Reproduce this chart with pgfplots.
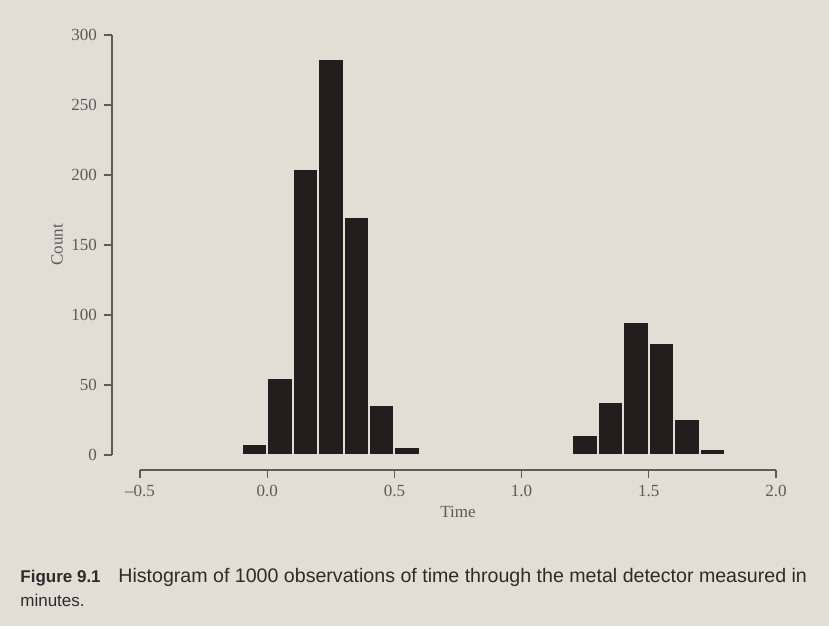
\documentclass[border=0pt]{standalone}
\usepackage{pgfplots}
\pgfplotsset{compat=1.18}
\usepackage{fontspec}
\setmainfont{Liberation Serif}
\newfontfamily\capfont{Liberation Sans}
\definecolor{pagebg}{RGB}{226,222,214}
\definecolor{barcol}{RGB}{36,29,29}
\definecolor{inkgray}{RGB}{95,90,86}
\definecolor{capink}{RGB}{45,42,42}
\begin{document}
\begin{tikzpicture}[x=1pt,y=1pt]
\fill[pagebg] (0,0) rectangle (414.5,313);
\begin{axis}[
  at={(70pt,85.5pt)}, anchor=south west,
  scale only axis, width=318pt, height=210pt,
  xmin=-0.5, xmax=2.0, ymin=0, ymax=300,
  enlargelimits=false,
  axis lines=left,
  axis line style={-, draw=inkgray, line width=0.6pt},
  axis x line shift=7.5pt,
  axis y line shift=14pt,
  xtick={-0.5,0,0.5,1,1.5,2},
  xticklabels={–0.5,0.0,0.5,1.0,1.5,2.0},
  ytick={0,50,...,300},
  tick align=outside,
  major tick length=4pt,
  tick style={draw=inkgray, line width=0.6pt},
  tick label style={font=\fontsize{8.5}{10}\selectfont, text=inkgray},
  /pgf/number format/assume math mode=true,
  clip=false,
]
\addplot[ybar interval, fill=barcol, draw=pagebg, line width=1pt]
  coordinates {(-0.1,8) (0.0,55) (0.1,204) (0.2,283) (0.3,170) (0.4,36) (0.5,6) (0.6,6)};
\addplot[ybar interval, fill=barcol, draw=pagebg, line width=1pt]
  coordinates {(1.2,14) (1.3,38) (1.4,95) (1.5,80) (1.6,26) (1.7,4) (1.8,4)};
\node[rotate=90, font=\fontsize{8.5}{10}\selectfont, text=inkgray] at (axis description cs:-0.1305,0.5) {Count};
\node[font=\fontsize{8.5}{10}\selectfont, text=inkgray] at (axis description cs:0.5,-0.136) {Time};
\end{axis}
\node[anchor=base west, inner sep=0pt, text=capink, font=\capfont\fontsize{8.5}{10}\selectfont\bfseries] at (10,22) {Figure 9.1};
\node[anchor=base west, inner sep=0pt, text=capink, font=\capfont\fontsize{9.8}{11}\selectfont] at (59,22) {Histogram of 1000 observations of time through the metal detector measured in};
\node[anchor=base west, inner sep=0pt, text=capink, font=\capfont\fontsize{8.5}{10}\selectfont] at (10,10) {minutes.};
\end{tikzpicture}
\end{document}
